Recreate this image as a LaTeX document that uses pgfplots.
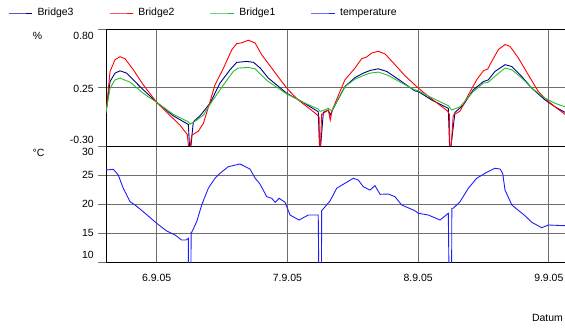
\documentclass[border=0pt]{standalone}
\usepackage{fontspec}
\setmainfont{Liberation Sans}
\usepackage{pgfplots}
\pgfplotsset{compat=1.18}
\definecolor{bnavy}{RGB}{0,0,140}
\definecolor{bred}{RGB}{255,0,0}
\definecolor{bgreen}{RGB}{40,190,40}
\definecolor{tblue}{RGB}{30,30,255}
\definecolor{gridgray}{RGB}{110,110,110}
\begin{document}
\fontsize{10.5}{12.6}\selectfont
\begin{tikzpicture}[x=1bp,y=1bp]
\path[use as bounding box] (0,0) rectangle (565,327);
\pgfplotsset{
  panel/.style={scale only axis, width=459bp, height=116bp, xmin=5.612, xmax=9.124,
   axis y line*=left, axis line style={black, line width=1bp},
   xtick={6,7,8,9}, xticklabels={}, x tick style={draw=none},
   yticklabels={}, tick align=outside, major tick length=8bp,
   y tick style={gridgray, line width=1bp},
   grid=major, grid style={gridgray, line width=1bp}, clip mode=individual,
   every axis plot/.append style={line width=0.9bp}},
}
\begin{axis}[panel, name=top, at={(106bp,181bp)}, anchor=south west,
  ymin=-0.30, ymax=0.80, ytick={-0.3,0.25,0.8},
  legend style={draw=none, fill=none, at={(-0.2135,1.1466)}, anchor=west,
    inner sep=0pt, nodes={inner xsep=0pt, inner ysep=1pt, text width=71.6bp},
    /tikz/every odd column/.append style={column sep=5bp}},
  legend columns=4, legend cell align=left,
  legend image code/.code={\draw[mark repeat=2,mark phase=2,#1,line width=0.9bp] plot coordinates {(0bp,0bp) (11.7bp,0bp) (23.4bp,0bp)};}]
% Bridge3
\addplot[bnavy] coordinates {
(5.612,0.009)(5.643,0.311)(5.681,0.391)(5.719,0.413)(5.770,0.391)(5.872,0.263)
(6.000,0.114)(6.127,-0.014)(6.242,-0.096)(6.253,-0.35)(6.258,-0.35)(6.280,-0.071)
(6.331,-0.014)(6.408,0.105)(6.484,0.296)(6.561,0.423)(6.612,0.493)(6.689,0.502)
(6.741,0.493)(6.792,0.439)(6.854,0.344)(6.995,0.200)(7.111,0.120)(7.236,0.025)
(7.247,-0.35)(7.251,-0.35)(7.275,0.019)(7.313,0.041)(7.328,-0.007)(7.351,0.057)
(7.440,0.263)(7.517,0.349)(7.581,0.391)(7.632,0.416)(7.695,0.432)(7.760,0.407)
(7.874,0.311)(7.976,0.222)(8.002,0.216)(8.104,0.136)(8.231,0.057)(8.242,-0.35)
(8.247,-0.35)(8.282,0.019)(8.346,0.089)(8.422,0.232)(8.499,0.311)(8.537,0.327)
(8.588,0.407)(8.665,0.471)(8.717,0.454)(8.793,0.359)(8.870,0.248)(8.972,0.136)
(9.047,0.072)(9.124,0.019)};
\addlegendentry{Bridge3}
% Bridge2
\addplot[bred] coordinates {
(5.612,0.009)(5.643,0.407)(5.681,0.518)(5.719,0.547)(5.757,0.528)(5.821,0.423)
(5.897,0.280)(6.000,0.114)(6.077,0.019)(6.178,-0.102)(6.234,-0.191)(6.247,-0.35)
(6.251,-0.35)(6.268,-0.198)(6.318,-0.160)(6.357,-0.086)(6.408,0.120)(6.446,0.280)
(6.511,0.439)(6.575,0.614)(6.612,0.671)(6.650,0.678)(6.701,0.703)(6.752,0.678)
(6.803,0.566)(6.880,0.439)(6.956,0.311)(7.007,0.232)(7.083,0.136)(7.160,0.063)
(7.224,0.000)(7.242,-0.023)(7.247,-0.35)(7.251,-0.35)(7.262,0.000)(7.313,0.041)
(7.328,-0.055)(7.343,0.041)(7.402,0.216)(7.440,0.327)(7.517,0.439)(7.568,0.528)
(7.606,0.544)(7.645,0.582)(7.695,0.598)(7.747,0.573)(7.823,0.471)(7.900,0.366)
(8.002,0.248)(8.104,0.146)(8.226,0.031)(8.239,0.000)(8.243,-0.35)(8.250,-0.35)
(8.269,-0.007)(8.321,0.031)(8.384,0.184)(8.448,0.327)(8.499,0.413)(8.533,0.430)
(8.563,0.502)(8.614,0.614)(8.665,0.662)(8.703,0.645)(8.767,0.535)(8.843,0.375)
(8.920,0.216)(8.984,0.136)(9.047,0.072)(9.124,0.000)};
\addlegendentry{Bridge2}
% Bridge1
\addplot[bgreen] coordinates {
(5.612,0.025)(5.643,0.248)(5.681,0.327)(5.719,0.344)(5.796,0.305)(5.897,0.200)
(6.000,0.114)(6.127,0.000)(6.242,-0.071)(6.255,-0.093)(6.306,-0.055)(6.357,-0.007)
(6.421,0.120)(6.511,0.280)(6.586,0.407)(6.624,0.439)(6.701,0.445)(6.752,0.432)
(6.792,0.382)(6.854,0.311)(6.995,0.194)(7.136,0.105)(7.236,0.050)(7.249,0.031)
(7.262,0.031)(7.313,0.057)(7.339,0.031)(7.364,0.089)(7.440,0.263)(7.517,0.334)
(7.581,0.368)(7.632,0.391)(7.695,0.401)(7.774,0.368)(7.876,0.296)(7.976,0.232)
(8.002,0.222)(8.104,0.158)(8.231,0.082)(8.257,0.041)(8.321,0.072)(8.422,0.216)
(8.499,0.296)(8.537,0.305)(8.601,0.375)(8.665,0.439)(8.717,0.423)(8.793,0.344)
(8.870,0.248)(8.972,0.153)(9.047,0.105)(9.124,0.072)};
\addlegendentry{Bridge1}
\addlegendimage{tblue, line width=0.9bp}
\addlegendentry{temperature}
\end{axis}
\begin{axis}[panel, name=bot, at={(106bp,65bp)}, anchor=south west,
  ymin=10, ymax=30, ytick={10,15,20,25,30}]
\addplot[tblue] coordinates {
(5.612,25.86)(5.668,25.98)(5.706,25.00)(5.744,22.71)(5.796,20.40)(5.834,19.83)
(5.872,19.14)(5.933,17.98)(6.000,16.67)(6.077,15.34)(6.140,14.66)(6.191,13.79)
(6.224,13.79)(6.242,14.09)(6.243,5)(6.262,5)(6.263,15.12)(6.268,15.12)
(6.306,16.95)(6.344,19.83)(6.395,22.71)(6.446,24.43)(6.484,25.29)(6.548,26.43)
(6.637,26.90)(6.714,26.03)(6.752,24.48)(6.790,23.45)(6.842,21.26)(6.880,20.98)
(6.906,20.29)(6.936,20.98)(6.982,20.29)(7.020,18.10)(7.089,17.24)(7.160,18.10)
(7.236,18.10)(7.241,5)(7.260,5)(7.262,18.84)(7.326,20.52)(7.377,22.71)
(7.440,23.57)(7.504,24.43)(7.542,24.14)(7.581,22.98)(7.632,22.41)(7.670,23.16)
(7.709,21.67)(7.772,21.72)(7.823,21.26)(7.874,19.83)(7.976,18.84)(8.002,18.40)
(8.078,18.10)(8.168,17.24)(8.231,18.40)(8.238,5)(8.256,5)(8.258,19.26)
(8.269,19.26)(8.321,20.40)(8.384,22.71)(8.448,24.43)(8.525,25.47)(8.588,26.16)
(8.627,26.03)(8.647,25.29)(8.665,22.41)(8.717,19.83)(8.780,18.67)(8.818,17.98)
(8.870,16.84)(8.946,15.91)(8.997,16.38)(9.124,16.26)};
\end{axis}
% axis texts
\node[anchor=east, inner sep=0pt] at (94,291) {0.80};
\node[anchor=east, inner sep=0pt] at (94,238.3) {0.25};
\node[anchor=east, inner sep=0pt] at (94,187.5) {-0.30};
\node[inner sep=0pt] at (37.5,291) {\%};
\node[inner sep=0pt] at (38.5,174.5) {°C};
\node[anchor=east, inner sep=0pt] at (94,175) {30};
\node[anchor=east, inner sep=0pt] at (94,152) {25};
\node[anchor=east, inner sep=0pt] at (94,123) {20};
\node[anchor=east, inner sep=0pt] at (94,94) {15};
\node[anchor=east, inner sep=0pt] at (94,72) {10};
\node[inner sep=0pt] at (156.7,48.7) {6.9.05};
\node[inner sep=0pt] at (287.4,48.7) {7.9.05};
\node[inner sep=0pt] at (418.1,48.7) {8.9.05};
\node[inner sep=0pt] at (548.8,48.7) {9.9.05};
\node[inner sep=0pt] at (547.5,8.7) {Datum};
\end{tikzpicture}
\end{document}
